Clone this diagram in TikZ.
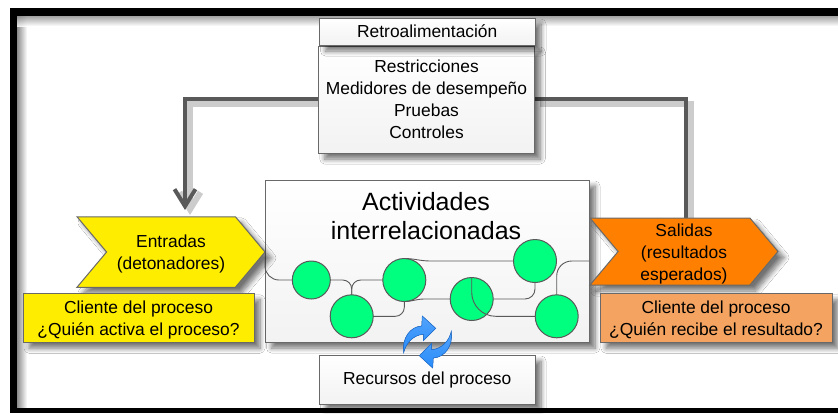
\documentclass[tikz,border=0pt]{standalone}
\usepackage{fontspec}
\setmainfont{Liberation Sans}
\usepackage{xcolor}
\usetikzlibrary{calc, arrows.meta, positioning, shapes.symbols, shadows.blur}

\definecolor{linegray}{RGB}{89, 89, 89}
\definecolor{boxline}{RGB}{105, 105, 105}
\definecolor{entryyellow}{RGB}{255, 237, 0}
\definecolor{exitorange}{RGB}{255, 128, 0}
\definecolor{clientpeach}{RGB}{244, 164, 96}
\definecolor{activitygreen}{RGB}{0, 255, 127}
\definecolor{cycleblue}{RGB}{40, 140, 250}
\definecolor{cycleedge}{RGB}{30, 110, 210}

\newcommand{\boxfont}{\fontsize{17.4}{22}\selectfont}
\newcommand{\dropline}{\rule{0pt}{16.6pt}}

\tikzset{
    softshadow/.style={blur shadow={shadow blur steps=8, shadow xshift=6pt, shadow yshift=-6pt, shadow blur radius=5pt, shadow opacity=55}},
    greybox/.style={draw=boxline, line width=1pt, top color=white, bottom color=black!5, align=center, inner sep=0pt, outer sep=0pt, font=\boxfont, softshadow},
    clientbox/.style={draw=boxline, line width=1pt, align=center, inner sep=0pt, outer sep=0pt, minimum width=231pt, minimum height=48.5pt, font=\boxfont, softshadow},
    chevron/.style={signal, signal from=west, signal to=east, signal pointer angle=100, draw=boxline, line width=1pt, align=center, inner sep=0pt, outer sep=0pt, minimum width=188pt, minimum height=69pt, font=\boxfont, softshadow},
    activity/.style={circle, draw=linegray, line width=1pt, fill=activitygreen, inner sep=0pt, outer sep=0pt, minimum size=43pt},
    wire/.style={draw=linegray, line width=0.9pt},
    feedback/.style={draw=linegray, line width=4pt},
    feedshadow/.style={draw=black!20, line width=6pt, transform canvas={xshift=5pt, yshift=-5pt}},
    backtip/.style={-{Straight Barb[length=17pt, width=21pt]}}
}

\begin{document}
\begin{tikzpicture}[x=1pt, y=-1pt]
    \useasboundingbox (0,0) rectangle (838,413);
    \fill[white] (0,0) rectangle (838,413);

    % frame
    \shade[left color=black!45, right color=white] (17,16) rectangle (27,408);
    \shade[top color=black!45, bottom color=white, fill opacity=0.8] (17,16) rectangle (838,26);
    \fill[black] (10,8) rectangle (838,16);
    \fill[black] (10,8) rectangle (17,413);
    \fill[black] (10,408) rectangle (838,413);

    \coordinate (backin) at (185,210);
    \coordinate (backout) at (686,218);
    \coordinate (backleft) at (319.5,99);
    \coordinate (backright) at (535,99);

    % feedback lines
    \draw[feedshadow, backtip] (backleft) -| (backin);
    \draw[feedshadow] (backright) -| (backout);
    \draw[feedback, backtip] (backleft) -| (backin);
    \draw[feedback] (backright) -| (backout);

    % boxes
    \node[greybox, minimum width=215.5pt, minimum height=107pt] (measures) at (426.5,99.5) {Restricciones\\Medidores de desempeño\\Pruebas\\Controles};
    \node[greybox, minimum width=215.5pt, minimum height=27pt] (feedbacktitle) at (427.25,31.5) {Retroalimentación};
    \node[greybox, minimum width=323.5pt, minimum height=162pt] (main) at (427.25,261) {};
    \node[font=\fontsize{25}{29}\selectfont, align=center] (maintitle) at (426,216.5) {Actividades\\interrelacionadas};
    \node[greybox, minimum width=215.5pt, minimum height=49pt] (resources) at (427.25,379.5) {Recursos del proceso};

    \node[chevron, fill=entryyellow, minimum height=70.5pt] (entries) at (171,252) {\dropline Entradas\\(detonadores)};
    \node[chevron, fill=exitorange, minimum height=67pt] (exits) at (684,251.5) {\dropline Salidas\\(resultados\\esperados)};
    \node[clientbox, fill=entryyellow] (clientin) at (138.5,318) {\dropline Cliente del proceso\\¿Quién activa el proceso?};
    \node[clientbox, fill=clientpeach, minimum width=232pt] (clientout) at (716,318) {\dropline Cliente del proceso\\¿Quién recibe el resultado?};

    % activities
    \node[activity, minimum size=38pt] (a) at (311.3,280) {};
    \node[activity] (b) at (351.7,316.3) {};
    \node[activity] (c) at (404.3,280) {};
    \node[activity] (d) at (471.7,299) {};
    \node[activity] (e) at (535,261) {};
    \node[activity] (f) at (556.7,316.3) {};

    \draw[wire, rounded corners=14pt] (entries.east) |- (a.west);
    \draw[wire, rounded corners=9pt] (a.east) -| (b.north);
    \draw[wire, rounded corners=9pt] (c.west) -| (b.north);
    \draw[wire, rounded corners=9pt] (b.east) -| (c.south);
    \draw[wire] (c.north) to[out=0, in=180] ($(c.north)+(26,2.5)$) -- (e.west);
    \draw[wire] (c.south) to[out=0, in=180] ($(c.south)+(20,-2.5)$) -- (d.west);
    \draw[wire, rounded corners=10pt] (d.east) -| (e.south);
    \draw[wire, rounded corners=24pt] (d.north) |- (f.west);
    \draw[wire, rounded corners=15pt] (f.north) |- (main.east);

    % cycle arrows
    \foreach \rot in {0,180}
        \filldraw[draw=cycleedge, line width=0.5pt, top color=cycleblue!80, bottom color=cycleblue, rotate around={\rot:(427.5,342)}]
            (403.7,352.7) .. controls (401.7,338.3) and (410,326.7) .. (421.7,326)
            -- (422.3,316) -- (435.7,328.3) -- (423.3,340.7) -- (423.3,334.3)
            .. controls (413.3,335) and (405.7,343.3) .. (403.7,352.7) -- cycle;
\end{tikzpicture}
\end{document}
